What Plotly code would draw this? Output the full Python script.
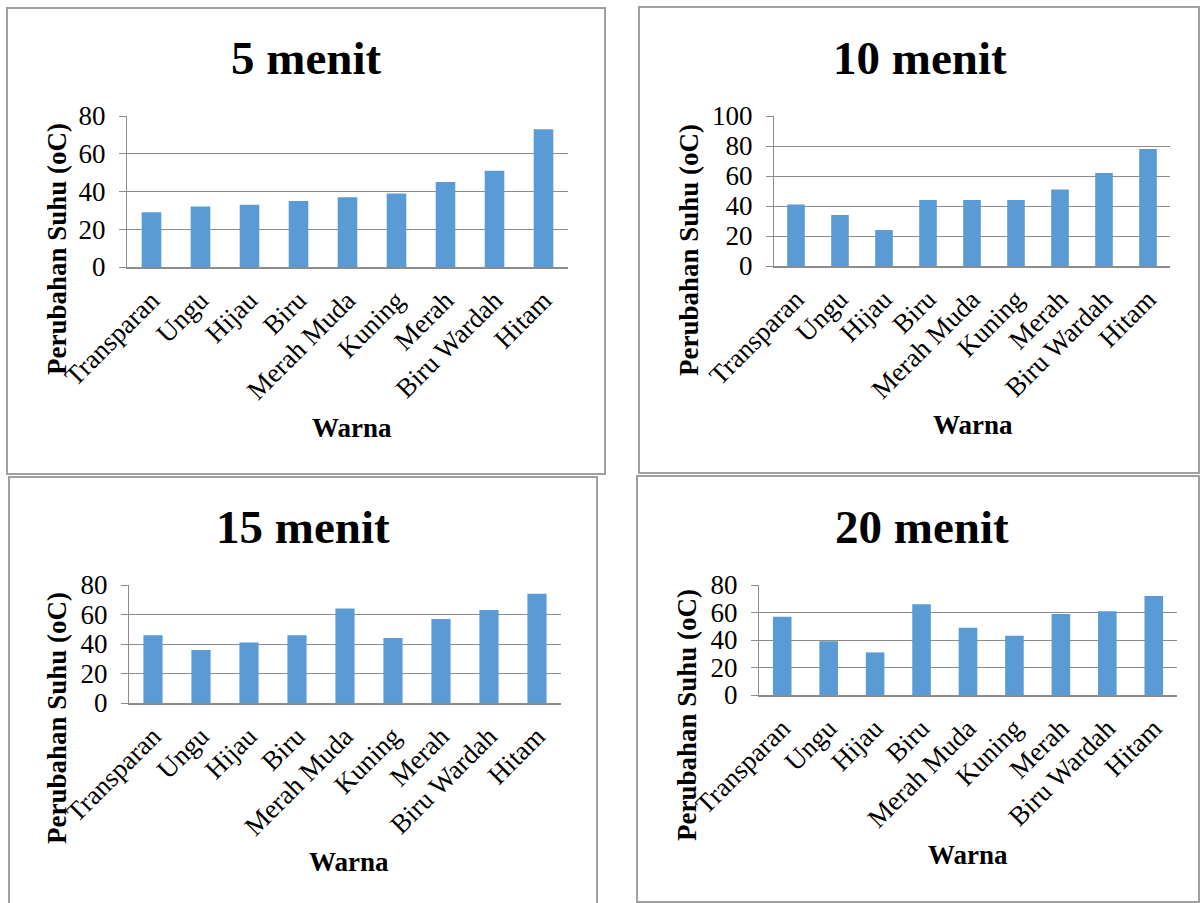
import plotly.graph_objects as go

W, H = 1200, 903

# Data
kategori = ["Transparan", "Ungu", "Hijau", "Biru", "Merah Muda",
            "Kuning", "Merah", "Biru Wardah", "Hitam"]
suhu_5 = [29, 32, 33, 35, 37, 39, 45, 51, 73]
suhu_10 = [41, 34, 24, 44, 44, 44, 51, 62, 78]
suhu_15 = [46, 36, 41, 46, 64, 44, 57, 63, 74]
suhu_20 = [57, 39, 31, 66, 49, 43, 59, 61, 72]
judul = ["5 menit", "10 menit", "15 menit", "20 menit"]
y_max = [80, 100, 80, 80]
seri = [suhu_5, suhu_10, suhu_15, suhu_20]

FONT = "Liberation Serif, Times New Roman, serif"
BAR = "#5b9bd5"
GRID = "#8c8c8c"
BORDER = "#a0a0a0"


def fx(x):
    return x / W


def fy(y):
    return 1 - y / H


# Pixel geometry of each panel:
# plot area (left, right, top, bottom), frame box, title, y-title, x-title centres
panel = [
    dict(area=(127, 568, 116, 267), box=(7, 8, 605, 474),
         title=(306, 58), ytitle=(57, 249), xtitle=(352, 428)),
    dict(area=(774, 1170, 116, 266), box=(639, 7, 1199, 473),
         title=(920, 58), ytitle=(689, 250), xtitle=(973, 425)),
    dict(area=(129, 561, 585, 703), box=(9, 477, 597, 912),
         title=(303, 527), ytitle=(57, 718), xtitle=(349, 862)),
    dict(area=(759, 1177, 585, 695), box=(637, 476, 1199, 902),
         title=(922, 527), ytitle=(687, 715), xtitle=(968, 855)),
]

fig = go.Figure()
layout = dict(
    width=W, height=H,
    margin=dict(l=0, r=0, t=0, b=0, autoexpand=False),
    paper_bgcolor="white", plot_bgcolor="white",
    showlegend=False,
    font=dict(family=FONT, color="black"),
    bargap=0.6,
)
shapes, annots = [], []

for i, (p, vals) in enumerate(zip(panel, seri)):
    n = "" if i == 0 else str(i + 1)
    fig.add_trace(go.Bar(
        x=kategori, y=vals, xaxis="x" + n, yaxis="y" + n,
        marker=dict(color=BAR, line=dict(width=0)),
    ))
    x0, x1, yt, yb = p["area"]
    layout["xaxis" + n] = dict(
        domain=[fx(x0), fx(x1)], anchor="y" + n, automargin=False,
        showline=True, linecolor=GRID, linewidth=1.5,
        showgrid=False, ticks="", tickangle=-45,
        tickfont=dict(size=27, family=FONT, color="black"),
        ticklabelstandoff=5, fixedrange=True,
    )
    layout["yaxis" + n] = dict(
        domain=[fy(yb), fy(yt)], anchor="x" + n, automargin=False,
        range=[0, y_max[i]], dtick=20,
        showgrid=True, gridcolor=GRID, gridwidth=1.2,
        showline=True, linecolor=GRID, linewidth=1.2,
        ticks="outside", ticklen=7, tickcolor=GRID, tickwidth=1.2,
        zeroline=False,
        tickfont=dict(size=27, family=FONT, color="black"),
        ticklabelstandoff=8, fixedrange=True,
    )
    bx0, by0, bx1, by1 = p["box"]
    shapes.append(dict(
        type="rect", xref="paper", yref="paper",
        x0=fx(bx0), x1=fx(bx1), y0=fy(by1), y1=fy(by0),
        line=dict(color=BORDER, width=2),
    ))
    tx, ty = p["title"]
    annots.append(dict(
        text="<b>" + judul[i] + "</b>", x=fx(tx), y=fy(ty),
        xref="paper", yref="paper", showarrow=False,
        xanchor="center", yanchor="middle",
        font=dict(size=47, family=FONT, color="black"),
    ))
    ax, ay = p["ytitle"]
    annots.append(dict(
        text="<b>Perubahan Suhu (oC)</b>", x=fx(ax), y=fy(ay),
        xref="paper", yref="paper", showarrow=False, textangle=-90,
        xanchor="center", yanchor="middle",
        font=dict(size=27, family=FONT, color="black"),
    ))
    wx, wy = p["xtitle"]
    annots.append(dict(
        text="<b>Warna</b>", x=fx(wx), y=fy(wy),
        xref="paper", yref="paper", showarrow=False,
        xanchor="center", yanchor="middle",
        font=dict(size=27, family=FONT, color="black"),
    ))

layout["shapes"] = shapes
layout["annotations"] = annots
fig.update_layout(**layout)
fig.write_html("out.html")
